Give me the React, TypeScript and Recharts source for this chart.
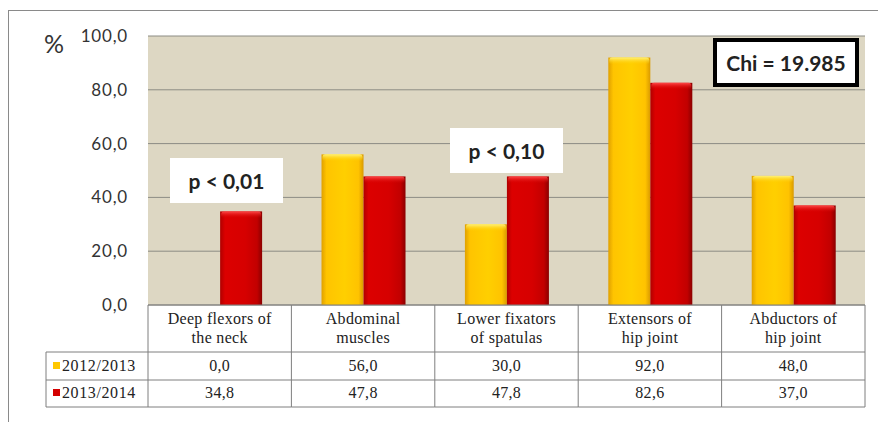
import React from 'react';
import { BarChart, Bar, XAxis, YAxis, CartesianGrid } from 'recharts';

// muscle groups (split into the two header lines of the data table)
const categories = [
    'Deep flexors of\nthe neck',
    'Abdominal\nmuscles',
    'Lower fixators\nof spatulas',
    'Extensors of\nhip joint',
    'Abductors of\nhip joint'
];
const values2012 = [0.0, 56.0, 30.0, 92.0, 48.0];
const values2013 = [34.8, 47.8, 47.8, 82.6, 37.0];
const seriesNames = ['2012/2013', '2013/2014'];
const yTicks = [0, 20, 40, 60, 80, 100];

const data = categories.map((name, i) => ({ name, a: values2012[i], b: values2013[i] }));

const fmt = (v: number) => v.toFixed(1).replace('.', ',');

const W = 878;
const H = 422;
const PLOT_LEFT = 148;
const PLOT_RIGHT = 865;
const BAND = (PLOT_RIGHT - PLOT_LEFT) / categories.length;
const TABLE_LINE = '#7f7f7f';
const SERIF = '"Liberation Serif", "DejaVu Serif", serif';
const SANS = 'Lato, "Liberation Sans", sans-serif';

const YELLOW = '#ffc800';
const RED = '#d40000';

const bevelBar = (gradId: string) => (props: any) => {
    const { x, y, width, height } = props;
    if (!height || height <= 0) return <g />;
    return (
        <g>
            <rect x={x} y={y} width={width} height={height} fill={`url(#${gradId})`} />
            <rect x={x + 1} y={y} width={width - 2} height={Math.min(7, height)} rx={3} fill={`url(#${gradId}Top)`} />
        </g>
    );
};

// column of the data table under each category
const TableTick = (props: any) => {
    const { x, y, payload, index } = props;
    const left = x - BAND / 2;
    const lines = String(payload.value).split('\n');
    const textProps = { fontFamily: SERIF, fontSize: 16, fill: '#222', textAnchor: 'middle' as const, letterSpacing: 0.3 };
    return (
        <g>
            {index === 0 && (
                <g>
                    <line x1={46} x2={left} y1={y + 47} y2={y + 47} stroke={TABLE_LINE} />
                    <line x1={46} x2={left} y1={y + 75} y2={y + 75} stroke={TABLE_LINE} />
                    <line x1={46} x2={left} y1={y + 102} y2={y + 102} stroke={TABLE_LINE} />
                    <line x1={46} x2={46} y1={y + 47} y2={y + 102} stroke={TABLE_LINE} />
                    <line x1={left} x2={left} y1={y} y2={y + 102} stroke={TABLE_LINE} />
                    {seriesNames.map((s, i) => (
                        <g key={s}>
                            <rect x={53} y={y + 57 + i * 27} width={7} height={7} fill={i === 0 ? YELLOW : RED} />
                            <text x={62} y={y + 66 + i * 27} fontFamily={SERIF} fontSize={16} fill="#222" letterSpacing={0.6}>{s}</text>
                        </g>
                    ))}
                </g>
            )}
            <line x1={left} x2={left + BAND} y1={y} y2={y} stroke={TABLE_LINE} />
            <line x1={left} x2={left + BAND} y1={y + 47} y2={y + 47} stroke={TABLE_LINE} />
            <line x1={left} x2={left + BAND} y1={y + 75} y2={y + 75} stroke={TABLE_LINE} />
            <line x1={left} x2={left + BAND} y1={y + 102} y2={y + 102} stroke={TABLE_LINE} />
            <line x1={left + BAND} x2={left + BAND} y1={y} y2={y + 102} stroke={TABLE_LINE} />
            {lines.map((l, i) => (
                <text key={i} x={x} y={y + 19 + i * 19} {...textProps}>{l}</text>
            ))}
            <text x={x} y={y + 66} {...textProps}>{fmt(values2012[index])}</text>
            <text x={x} y={y + 93} {...textProps}>{fmt(values2013[index])}</text>
        </g>
    );
};

const boxStyle: React.CSSProperties = {
    position: 'absolute',
    background: '#fff',
    fontFamily: SANS,
    fontWeight: 700,
    color: '#222',
    display: 'flex',
    alignItems: 'center',
    justifyContent: 'center',
    boxSizing: 'border-box'
};

const App = () => {
    return (
        <div style={{ position: 'absolute', left: 0, top: 0, width: W, height: H, background: '#fff', overflow: 'hidden' }}>
            <svg width={0} height={0} style={{ position: 'absolute' }}>
                <defs>
                    <linearGradient id="gYellow" x1="0" x2="1" y1="0" y2="0">
                        <stop offset="0%" stopColor="#e0a000" />
                        <stop offset="12%" stopColor="#ffc400" />
                        <stop offset="55%" stopColor="#ffcf00" />
                        <stop offset="88%" stopColor="#ffc300" />
                        <stop offset="100%" stopColor="#d99a00" />
                    </linearGradient>
                    <linearGradient id="gYellowTop" x1="0" x2="0" y1="0" y2="1">
                        <stop offset="0%" stopColor="#fff27a" />
                        <stop offset="100%" stopColor="#ffcf00" stopOpacity={0} />
                    </linearGradient>
                    <linearGradient id="gRed" x1="0" x2="1" y1="0" y2="0">
                        <stop offset="0%" stopColor="#b00000" />
                        <stop offset="12%" stopColor="#dc0000" />
                        <stop offset="60%" stopColor="#d60000" />
                        <stop offset="88%" stopColor="#c20000" />
                        <stop offset="100%" stopColor="#8a0000" />
                    </linearGradient>
                    <linearGradient id="gRedTop" x1="0" x2="0" y1="0" y2="1">
                        <stop offset="0%" stopColor="#ff4a4a" />
                        <stop offset="100%" stopColor="#d60000" stopOpacity={0} />
                    </linearGradient>
                </defs>
            </svg>

            {/* outer chart frame */}
            <div style={{ position: 'absolute', left: 8, top: 10, width: 900, height: 440, border: '1px solid #8a8a8a' }} />

            <div style={{ position: 'absolute', left: 0, top: 0 }}>
                <BarChart
                    width={W}
                    height={H}
                    data={data}
                    margin={{ top: 36, right: W - PLOT_RIGHT, left: PLOT_LEFT - 60, bottom: 15 }}
                    barCategoryGap="21%"
                    barGap={0}
                >
                    <CartesianGrid vertical={false} fill="#ddd7c3" stroke="#8c8c84" fillOpacity={1} />
                    <XAxis
                        dataKey="name"
                        height={102}
                        axisLine={false}
                        tickLine={false}
                        tickSize={0}
                        tickMargin={0}
                        interval={0}
                        tick={<TableTick />}
                    />
                    <YAxis
                        width={60}
                        domain={[0, 100]}
                        ticks={yTicks}
                        axisLine={false}
                        tickLine={false}
                        tickSize={0}
                        tickMargin={20}
                        tickFormatter={fmt}
                        tick={{ fill: '#333', fontSize: 17, fontFamily: SANS, letterSpacing: 0.8 }}
                    />
                    <Bar dataKey="a" name={seriesNames[0]} fill={YELLOW} shape={bevelBar('gYellow')} isAnimationActive={false} />
                    <Bar dataKey="b" name={seriesNames[1]} fill={RED} shape={bevelBar('gRed')} isAnimationActive={false} />
                </BarChart>
            </div>

            <div style={{ position: 'absolute', left: 44, top: 28, fontFamily: SANS, fontSize: 25, color: '#333' }}>%</div>

            <div style={{ ...boxStyle, left: 170, top: 158, width: 113, height: 45, fontSize: 21 }}>p &lt; 0,01</div>
            <div style={{ ...boxStyle, left: 450, top: 128, width: 113, height: 45, fontSize: 21 }}>p &lt; 0,10</div>
            <div style={{ ...boxStyle, left: 713, top: 38, width: 146, height: 49, fontSize: 21, border: '4px solid #000' }}>Chi = 19.985</div>
        </div>
    );
};

export default App;
